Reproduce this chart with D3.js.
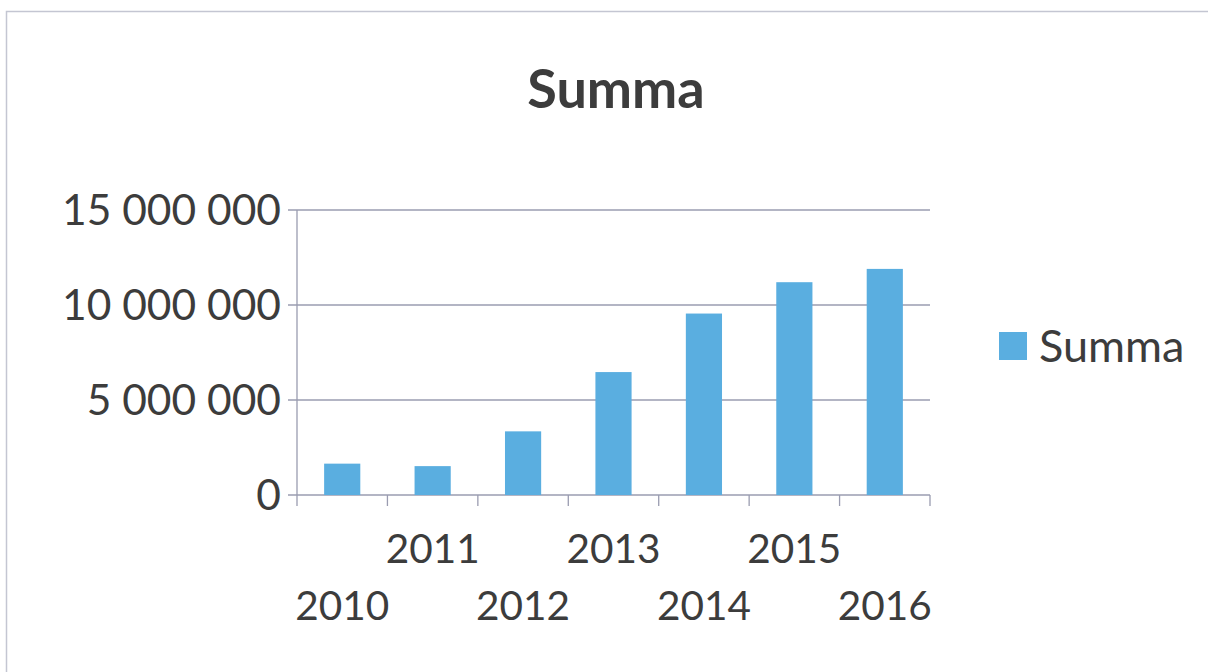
<!DOCTYPE html>
<html>
<head>
<meta charset="utf-8">
<script src="https://cdn.jsdelivr.net/npm/d3@7"></script>
<style>
  body { margin: 0; background: #fff; }
  text { font-family: Lato, "Open Sans", sans-serif; fill: #3c3c3c; }
</style>
</head>
<body>
<script>
// chart data
const years = ["2010", "2011", "2012", "2013", "2014", "2015", "2016"];
const summa = [1650000, 1520000, 3350000, 6470000, 9550000, 11200000, 11900000];
const yTicks = [0, 5000000, 10000000, 15000000];
const seriesName = "Summa";

const width = 1208, height = 672;
const marginLeft = 297, marginRight = 278, marginTop = 210, plotBottom = 495;

const svg = d3.select("body").append("svg")
    .attr("width", width)
    .attr("height", height);

// chart frame
svg.append("rect")
    .attr("x", 6.5).attr("y", 11.5)
    .attr("width", 1220).attr("height", 700)
    .attr("fill", "none")
    .attr("stroke", "#c4c6d2")
    .attr("stroke-width", 1.5);

const x = d3.scaleBand()
    .domain(years)
    .range([marginLeft, width - marginRight])
    .paddingInner(0.6)
    .paddingOuter(0.3);

const y = d3.scaleLinear()
    .domain([0, 15000000])
    .range([plotBottom, marginTop]);

const fmt = v => d3.format(",")(v).replace(/,/g, " ");

// gridlines
svg.append("g")
    .selectAll("line")
    .data(yTicks)
    .join("line")
    .attr("x1", marginLeft - 9)
    .attr("x2", width - marginRight)
    .attr("y1", d => y(d))
    .attr("y2", d => y(d))
    .attr("stroke", "#9a9cb0")
    .attr("stroke-width", 1.3);

// y axis labels
svg.append("g")
    .selectAll("text")
    .data(yTicks)
    .join("text")
    .attr("x", marginLeft - 16)
    .attr("y", d => y(d))
    .attr("dy", "0.36em")
    .attr("text-anchor", "end")
    .attr("font-size", 42.5)
    .text(fmt);

// y axis line
svg.append("line")
    .attr("x1", marginLeft).attr("x2", marginLeft)
    .attr("y1", marginTop).attr("y2", plotBottom)
    .attr("stroke", "#9a9cb0").attr("stroke-width", 1.3);

// bars
svg.append("g")
    .selectAll("rect")
    .data(years)
    .join("rect")
    .attr("x", d => x(d))
    .attr("width", x.bandwidth())
    .attr("y", (d, i) => y(summa[i]))
    .attr("height", (d, i) => y(0) - y(summa[i]))
    .attr("fill", "#5aaee0");

// x axis ticks at category boundaries
const step = x.step();
const boundaries = d3.range(years.length + 1).map(i => marginLeft + i * step);
svg.append("g")
    .selectAll("line")
    .data(boundaries)
    .join("line")
    .attr("x1", d => d).attr("x2", d => d)
    .attr("y1", plotBottom).attr("y2", plotBottom + 11)
    .attr("stroke", "#9a9cb0").attr("stroke-width", 1.3);

// staggered x labels
svg.append("g")
    .selectAll("text")
    .data(years)
    .join("text")
    .attr("x", d => x(d) + x.bandwidth() / 2)
    .attr("y", (d, i) => i % 2 ? 563 : 620)
    .attr("text-anchor", "middle")
    .attr("font-size", 40.5)
    .text(d => d);

// title
svg.append("text")
    .attr("x", 616)
    .attr("y", 108)
    .attr("text-anchor", "middle")
    .attr("font-size", 54)
    .attr("font-weight", "bold")
    .text(seriesName);

// legend
const legend = svg.append("g").attr("transform", "translate(999,332)");
legend.append("rect")
    .attr("width", 28).attr("height", 28)
    .attr("fill", "#5aaee0");
legend.append("text")
    .attr("x", 40).attr("y", 14)
    .attr("dy", "0.36em")
    .attr("font-size", 45)
    .text(seriesName);
</script>
</body>
</html>
